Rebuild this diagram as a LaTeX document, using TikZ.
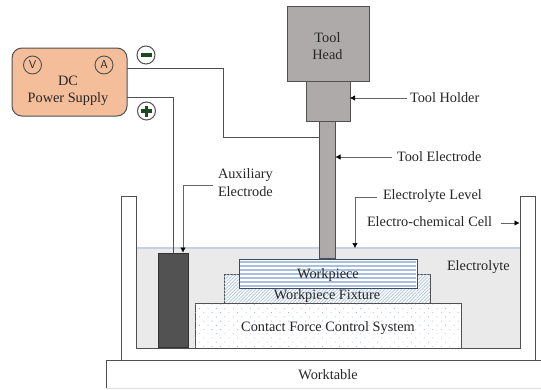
\documentclass[tikz,border=0pt]{standalone}
\usepackage{fontspec}
\setmainfont{Liberation Serif}
\usetikzlibrary{patterns,patterns.meta,arrows.meta,calc}
\definecolor{linegray}{HTML}{505050}
\definecolor{toolgray}{HTML}{AEAAAA}
\definecolor{psu}{HTML}{F4BE9B}
\definecolor{bath}{HTML}{EAEAEA}
\definecolor{level}{HTML}{C6D0E2}
\definecolor{patblue}{HTML}{A9C0DC}
\definecolor{dotblue}{HTML}{A9BBD0}
\definecolor{navy}{HTML}{3A4A6A}
\definecolor{signgreen}{HTML}{1F4A1F}
\tikzset{
  x=1pt,y=-1pt,
  every node/.style={font=\fontsize{14.3}{16}\selectfont,text=black!85,inner sep=0pt,outer sep=0pt},
  solidbox/.style={draw=linegray,line width=1pt,anchor=north west,align=center},
  wire/.style={draw=linegray,line width=0.9pt},
  leader/.style={draw=black!60,line width=0.6pt},
  pointer/.style={leader,-{Latex[length=5pt,width=5.5pt,black]}},
  lbl/.style={anchor=west,align=left},
  sign/.style={circle,draw=linegray,line width=1pt,fill=white,minimum size=18pt},
  meter/.style={circle,draw=linegray,line width=0.9pt,minimum size=18pt,font=\sffamily\fontsize{11.5}{13}\selectfont},
}
\begin{document}
\begin{tikzpicture}
\useasboundingbox (0,0) rectangle (541,389);
% electrolyte
\fill[bath] (136,248) rectangle (520,348);
\draw[level,line width=1.1pt] (136,248) -- (520,248);
% cell walls
\draw[linegray,line width=1pt,line join=miter] (121.5,360) -- (121.5,196) -- (136,196) -- (136,348) -- (520,348) -- (520,196) -- (535,196) -- (535,360);
% worktable
\node[solidbox,draw=none,minimum width=435pt,minimum height=28pt] (table) at (106,360) {};
\draw[linegray,line width=1pt] (table.south west) -- (table.north west) -- (table.north east);
\draw[black!12,line width=0.8pt] (table.south west) -- (table.south east);
\node at (328,375) {Worktable};
% stack
\node[solidbox,fill=white,minimum width=206pt,minimum height=29pt,
  postaction={pattern={Lines[angle=45,distance=2.4pt,line width=0.7pt]},pattern color=patblue}] (fixture) at (224,274) {};
\node[solidbox,fill=white,minimum width=266pt,minimum height=45pt,
  postaction={pattern={Dots[radius=0.55pt,distance=6pt,angle=45]},pattern color=dotblue}] (contact) at (195,303) {};
\node[solidbox,draw=navy,fill=white,minimum width=178pt,minimum height=29pt] (workpiece) at (239,259) {};
\foreach \yy in {262,266,270,274,278,282,286}
  \draw[patblue,line width=1.4pt] ([xshift=1pt]workpiece.west |- 0,\yy) -- ([xshift=-1pt]workpiece.east |- 0,\yy);
\node[solidbox,draw=navy,minimum width=178pt,minimum height=29pt] (workframe) at (239,259) {};
\node at (328,275) {Workpiece};
\node at (327,296) {Workpiece Fixture};
\node at (328,328) {Contact Force Control System};
% aux electrode
\node[solidbox,draw=black!80,fill=black!68,minimum width=30pt,minimum height=94pt] (aux) at (158,253) {};
% tool
\node[solidbox,fill=toolgray,minimum width=16pt,minimum height=137pt] (tool) at (319.5,121) {};
\node[solidbox,fill=toolgray,minimum width=44pt,minimum height=40pt] (holder) at (306,81) {};
\node[solidbox,fill=toolgray,minimum width=82pt,minimum height=75pt] (head) at (287,6) {};
\node at (327.5,38) {Tool};
\node at (327.5,55) {Head};
% power supply
\node[solidbox,fill=psu,rounded corners=10pt,minimum width=115pt,minimum height=68pt] (dc) at (12,48) {};
\node[meter] (v) at (32.5,65) {V};
\node[meter] (a) at (104,65) {A};
\node at (68,81) {DC};
\node at (68,99) {Power Supply};
% signs
\node[sign] (minus) at (146,55) {};
\fill[signgreen] (140.5,53.2) rectangle (151.5,56.8);
\node[sign] (plus) at (146.5,111) {};
\fill[signgreen] (141,109.3) rectangle (152,112.7);
\fill[signgreen] (144.8,105.5) rectangle (148.2,116.5);
% wires
\coordinate (dcm) at (dc.east |- 0,68);
\coordinate (dcp) at (dc.east |- 0,97);
\coordinate (toolin) at (tool.west |- 0,137);
\coordinate (auxin) at (173.5,253);
\draw[wire] (dcm) -| (223,137) -- (toolin);
\draw[wire] (dcp) -| (auxin);
% labels with leaders
\node[lbl] (lauxa) at (218,175) {Auxiliary};
\node[lbl] (lauxb) at (218,192) {Electrode};
\coordinate (auxstart) at (213,185);
\coordinate (auxend) at (183,252.5);
\draw[pointer] (auxstart) -| (auxend);
\node[lbl] (lholder) at (410,98) {Tool Holder};
\draw[pointer] (lholder.west) ++(-3,0) -- (holder.east |- 0,98);
\node[lbl] (ltool) at (397,157) {Tool Electrode};
\draw[pointer] (ltool.west) ++(-5,0) -- (tool.east |- 0,157);
\node[lbl] (llevel) at (383,196) {Electrolyte Level};
\coordinate (levelend) at (355,248);
\draw[pointer] (377,197) -| (levelend);
\node[lbl] (lcell) at (367,222) {Electro-chemical Cell};
\coordinate (cellwall) at (519.5,223);
\draw[pointer] (501,223) -- (cellwall);
\node[lbl] at (447,267) {Electrolyte};
\end{tikzpicture}
\end{document}
